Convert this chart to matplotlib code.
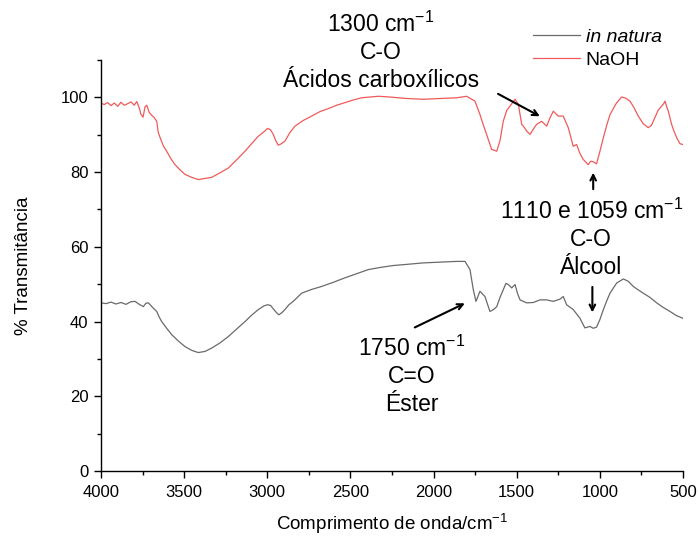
import matplotlib
matplotlib.use("Agg")
import matplotlib.pyplot as plt
from matplotlib.ticker import MultipleLocator

plt.rcParams['font.family'] = ['Liberation Sans', 'DejaVu Sans']
plt.rcParams['mathtext.default'] = 'regular'

# NaOH spectrum (wavenumber, % transmittance)
wn_naoh = [4000, 3980, 3960, 3940, 3920, 3900, 3880, 3860, 3840, 3820, 3800, 3785, 3770, 3760, 3747,
           3735, 3725, 3710, 3695, 3680, 3665, 3655, 3645, 3625, 3605, 3580, 3555, 3525, 3495,
           3455, 3415, 3375, 3334, 3285, 3234, 3184, 3134, 3094, 3054, 3020, 2998, 2980, 2964,
           2950, 2934, 2915, 2894, 2865, 2834, 2785, 2733, 2683, 2633, 2583, 2533, 2483, 2432,
           2382, 2332, 2262, 2162, 2062, 1961, 1861, 1801, 1751, 1721, 1700, 1681, 1651, 1620,
           1600, 1581, 1560, 1540, 1510, 1490, 1470, 1455, 1440, 1420, 1400, 1380, 1350, 1320,
           1300, 1280, 1250, 1220, 1190, 1160, 1140, 1120, 1100, 1070, 1055, 1040, 1020, 1000,
           979, 959, 939, 900, 869, 845, 819, 795, 769, 740, 709, 690, 669, 650, 628, 618, 608,
           598, 588, 570, 558, 538, 518, 502]
t_naoh = [98.4, 98.1, 98.6, 97.8, 98.5, 97.6, 98.7, 97.9, 98.3, 98.8, 97.9, 98.9, 97.2, 95.5, 94.7,
          97.5, 97.9, 96.0, 95.2, 94.6, 93.6, 90.5, 89.3, 87.0, 85.6, 83.6, 82.0, 80.6, 79.4,
          78.6, 78.0, 78.3, 78.6, 79.8, 81.1, 83.3, 85.6, 87.6, 89.6, 90.8, 91.7, 91.3, 90.1,
          88.5, 87.2, 87.6, 88.3, 90.5, 92.3, 93.8, 95.0, 96.2, 97.0, 97.9, 98.6, 99.3, 99.9,
          100.1, 100.3, 100.1, 99.7, 99.5, 99.7, 99.9, 100.3, 99.0, 95.4, 92.5, 90.1, 86.1, 85.6,
          88.5, 93.6, 96.5, 97.7, 99.5, 98.1, 92.8, 92.0, 91.0, 90.1, 91.5, 92.8, 93.6, 92.3,
          94.5, 96.3, 95.0, 95.0, 91.9, 86.9, 87.4, 85.0, 83.4, 82.0, 82.9, 82.8, 82.2, 85.5,
          89.2, 92.5, 95.4, 98.5, 100.1, 99.8, 99.0, 97.3, 95.0, 93.0, 91.9, 92.5, 94.6, 96.5,
          97.7, 98.2, 99.0, 97.5, 96.3, 93.0, 91.4, 89.2, 87.6, 87.4]

# in natura spectrum
wn_nat = [4000, 3970, 3940, 3910, 3880, 3850, 3820, 3795, 3770, 3745, 3730, 3715, 3690, 3665,
          3650, 3635, 3605, 3575, 3535, 3495, 3455, 3415, 3375, 3334, 3284, 3234, 3184, 3134,
          3094, 3054, 3020, 2998, 2980, 2964, 2945, 2930, 2912, 2894, 2870, 2844, 2793, 2733,
          2673, 2603, 2533, 2463, 2393, 2318, 2242, 2162, 2062, 1961, 1861, 1811, 1781, 1761,
          1745, 1721, 1691, 1661, 1640, 1620, 1600, 1581, 1565, 1550, 1530, 1510, 1495, 1480,
          1440, 1400, 1360, 1320, 1280, 1240, 1220, 1200, 1160, 1120, 1090, 1060, 1040, 1020,
          1000, 979, 959, 939, 899, 859, 830, 799, 770, 739, 700, 658, 620, 578, 540, 502]
t_nat = [45.0, 44.8, 45.2, 44.7, 45.1, 44.6, 45.3, 45.4, 44.6, 44.0, 44.9, 45.0, 43.8, 42.7,
         41.2, 40.0, 38.2, 36.5, 34.8, 33.3, 32.3, 31.7, 32.0, 32.9, 34.3, 36.0, 38.0, 40.0,
         41.7, 43.2, 44.2, 44.5, 44.3, 43.4, 42.4, 41.8, 42.4, 43.2, 44.5, 45.4, 47.6, 48.6,
         49.4, 50.5, 51.7, 52.8, 53.9, 54.5, 55.0, 55.3, 55.7, 55.9, 56.1, 56.1, 53.9, 48.5,
         45.4, 48.1, 46.7, 42.7, 43.2, 44.0, 46.5, 48.5, 50.2, 49.9, 49.0, 49.9, 47.5, 45.8,
         45.0, 45.1, 45.8, 45.8, 45.4, 46.0, 46.7, 44.5, 43.2, 40.9, 38.3, 38.7, 38.2, 38.5,
         40.5, 43.2, 45.5, 47.6, 50.3, 51.4, 50.8, 49.4, 48.5, 47.6, 46.5, 45.0, 43.8, 42.7,
         41.6, 40.9]

labels = ['in natura', 'NaOH']

fig = plt.figure(figsize=(6.98, 5.36), dpi=100)
ax = fig.add_axes([0.1447, 0.1213, 0.8338, 0.7667])

l1, = ax.plot(wn_nat, t_nat, color='#6a6a6a', lw=0.9)
l2, = ax.plot(wn_naoh, t_naoh, color='#f05a5a', lw=0.9)

ax.set_xlim(4000, 500)
ax.set_ylim(0, 110)
ax.xaxis.set_major_locator(MultipleLocator(500))
ax.xaxis.set_minor_locator(MultipleLocator(250))
ax.yaxis.set_major_locator(MultipleLocator(20))
ax.yaxis.set_minor_locator(MultipleLocator(10))
ax.tick_params(which='major', direction='out', length=5, width=1, labelsize=12, colors='black')
ax.tick_params(axis='y', which='major', pad=4)
ax.tick_params(axis='x', which='major', pad=5)
ax.tick_params(which='minor', direction='out', length=3, width=1)
for s in ['top', 'right']:
    ax.spines[s].set_visible(False)
for s in ['left', 'bottom']:
    ax.spines[s].set_linewidth(1)

ax.set_xlabel('Comprimento de onda/cm$^{-1}$', fontsize=13.5, va='center')
ax.xaxis.set_label_coords(0.5, -0.128)
ax.set_ylabel('% Transmitância', fontsize=13.5, va='center')
ax.yaxis.set_label_coords(-0.134, 0.5)

leg = fig.legend([l1, l2], labels, loc='upper left', bbox_to_anchor=(533 / 698, 1 - 28 / 536),
                 frameon=False, fontsize=14, handlelength=2.4, handletextpad=0.3,
                 labelspacing=0.3, borderpad=0, borderaxespad=0)
leg.get_texts()[0].set_style('italic')

fs = 16.5
ax.text(2315, 112.3, '1300 cm$^{-1}$\nC-O\nÁcidos carboxílicos', ha='center', va='center',
        fontsize=fs, linespacing=1.25, clip_on=False)
ax.annotate('', xy=(1346, 94.6), xytext=(1627, 101.3),
            arrowprops=dict(arrowstyle='->', color='black', lw=1.5))

ax.text(1052, 62.2, '1110 e 1059 cm$^{-1}$\nC-O\nÁlcool', ha='center', va='center',
        fontsize=fs, linespacing=1.25)
ax.annotate('', xy=(1040, 80.6), xytext=(1040, 74.7),
            arrowprops=dict(arrowstyle='->', color='black', lw=1.5))
ax.annotate('', xy=(1045, 41.7), xytext=(1045, 50.0),
            arrowprops=dict(arrowstyle='->', color='black', lw=1.5))

ax.text(2130, 25.5, '1750 cm$^{-1}$\nC=O\nÉster', ha='center', va='center',
        fontsize=fs, linespacing=1.25)
ax.annotate('', xy=(1797, 45.2), xytext=(2128, 38.1),
            arrowprops=dict(arrowstyle='->', color='black', lw=1.5))

fig.savefig('out.png', dpi=100)
